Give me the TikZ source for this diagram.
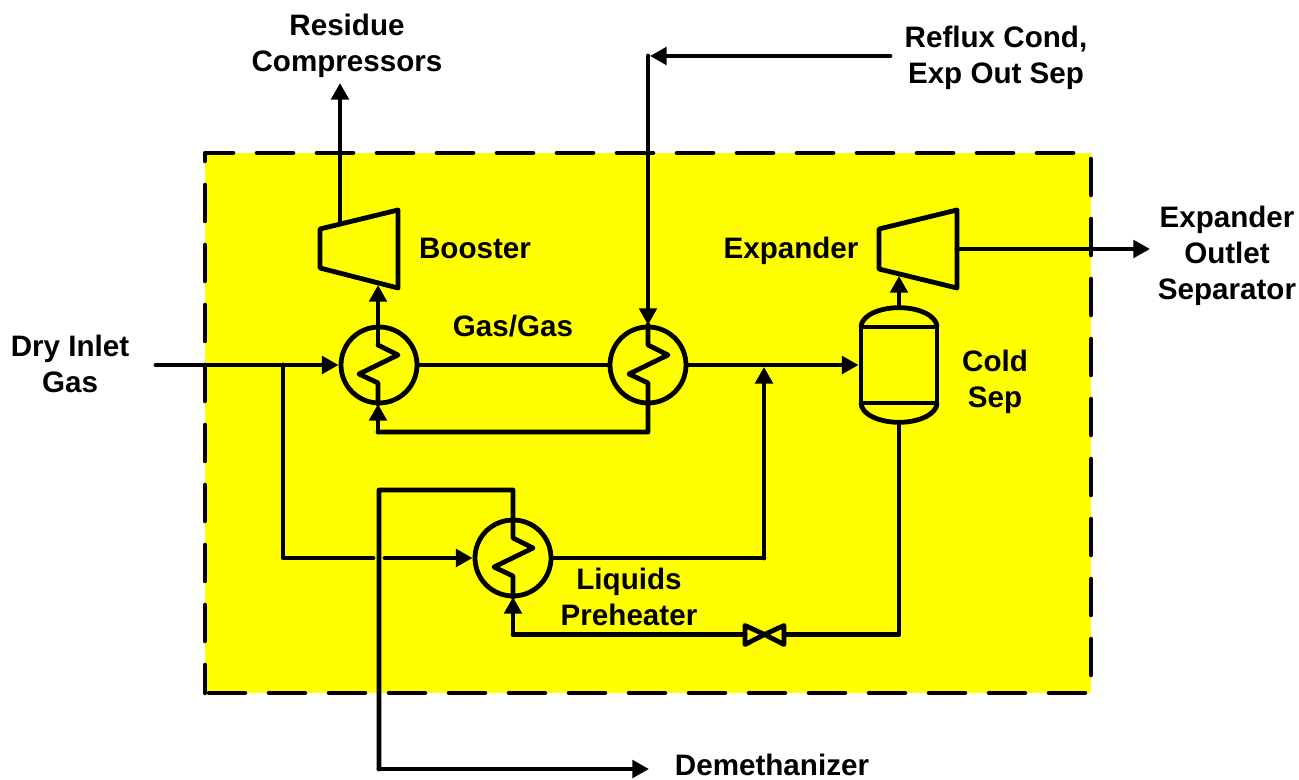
\documentclass[tikz,border=0pt]{standalone}
\usepackage{fontspec}
\setmainfont{Liberation Sans}
\usetikzlibrary{arrows.meta}
\definecolor{pfdyellow}{RGB}{255,255,0}
\tikzset{
  x=0.75pt,y=-0.75pt,
  every path/.style={line join=round},
  pipe/.style={draw=black,line width=3.6pt,line cap=round},
  flow/.style={pipe,-{Triangle[length=12.5pt,width=13pt]}},
  equip/.style={draw=black,line width=3.6pt},
  hx/.style={equip,circle,minimum size=57pt,inner sep=0pt},
  lbl/.style={font=\fontsize{22.2}{27}\selectfont\bfseries,align=center,inner sep=0pt,text=black},
  pt/.style={inner sep=0pt,minimum size=0pt},
}
\begin{document}
\begin{tikzpicture}
\useasboundingbox (0,0) rectangle (1299,780);
\fill[white] (0,0) rectangle (1299,780);
\fill[pfdyellow] (205,153) rectangle (1091,693);
\draw[line width=3.4pt,line cap=round,dash pattern=on 27pt off 18pt,dash phase=6pt] (205,693) -- (205,153) -- (1091,153) -- (1091,693) -- (205,693);
% exchangers
\node[hx] (e1) at (379,365) {};
\node[hx] (e2) at (648,365) {};
\node[hx] (e3) at (513,558) {};
% compressor and expander
\coordinate (bA) at (320,229); \coordinate (bB) at (398,210); \coordinate (bC) at (398,288); \coordinate (bD) at (320,268);
\draw[equip] (bA) -- (bB) -- (bC) -- (bD) -- cycle;
\coordinate (xA) at (879,229); \coordinate (xB) at (957,210); \coordinate (xC) at (957,288); \coordinate (xD) at (879,269);
\draw[equip] (xA) -- (xB) -- (xC) -- (xD) -- cycle;
% cold separator
\node[equip,rectangle,minimum width=57pt,minimum height=57pt,inner sep=0pt] (sep) at (899,365) {};
\draw[equip] (861,327) arc[start angle=180,end angle=0,x radius=28.5pt,y radius=14.5pt];
\draw[equip] (861,403) arc[start angle=180,end angle=360,x radius=28.5pt,y radius=14.5pt];
% valve
\node[pt] (vL) at (745,634.5) {};
\node[pt] (vR) at (784,634.5) {};
\node[pt] (v) at (764.5,634.5) {};
\draw[equip] (v.center) -- (745,625.5) -- (745,644.5) -- cycle;
\draw[equip] (v.center) -- (784,625.5) -- (784,644.5) -- cycle;
% named free ends
\node[pt] (inlet) at (156,365) {};
\node[pt] (tee) at (283,365) {};
\node[pt] (teeb) at (283,558) {};
\node[pt] (g1) at (373,558) {};
\node[pt] (g2) at (385,558) {};
\node[pt] (resid) at (340,83) {};
\node[pt] (refl) at (890,56) {};
\node[pt] (reflc) at (648,56) {};
\node[pt] (dm) at (649,769) {};
\node[pt] (exo) at (1150,249) {};
% connectors
\draw[flow] (inlet.center) -- (e1.west);
\draw[pipe] (tee.center) -- (teeb.center) -- (g1.center);
\draw[flow] (g2.center) -- (e3.west);
\draw[flow] (340,224) -- (resid.center);
\draw[flow] (378,345) -- (378,285);
\draw[pipe] (e1.east) -- (e2.west);
\draw[flow] (e2.east) -- (sep.west);
\draw[flow] (refl.center) -- (650,56);
\draw[flow] (reflc.center) -- (648,325);
\draw[pipe] (648,325) -- (648,345) -- (668,355) -- (629,374) -- (648,383) -- (648,432) -- (378,432);
\draw[flow] (378,432) -- (378,404);
\draw[pipe] (378,345) -- (398,355) -- (359,374) -- (378,383) -- (378,404);
\draw[pipe] (e3.east) -- (764,558);
\draw[flow] (764,558) -- (764,367);
\draw[flow] (899,307) -- (899,276);
\draw[flow] (xB |- exo) -- (exo.center);
\draw[pipe] (899,423) -- (899,634.5) -- (vR.center);
\draw[pipe] (vL.center) -- (513,634.5);
\draw[flow] (513,634.5) -- (513,597);
\draw[pipe] (513,597) -- (513,576) -- (494,567) -- (533,548) -- (513,538) -- (513,490) -- (379,490) -- (379,769);
\draw[flow] (379,769) -- (dm.center);
% labels
\node[lbl] (lresid) at (347,46) {Residue\\Compressors};
\node[lbl] (lrefl) at (996,58) {Reflux Cond,\\Exp Out Sep};
\node[lbl] (lboost) at (475,248) {Booster};
\node[lbl] (lexp) at (791,251) {Expander};
\node[lbl] (lexo) at (1227,256) {Expander\\Outlet\\Separator};
\node[lbl] (lgas) at (513,326) {Gas/Gas};
\node[lbl] (ldry) at (70,364) {Dry Inlet\\Gas};
\node[lbl] (lcold) at (995,382) {Cold\\Sep};
\node[lbl] (lliq) at (629,597) {Liquids\\Preheater};
\node[lbl] (ldem) at (772,765) {Demethanizer};
\end{tikzpicture}
\end{document}
